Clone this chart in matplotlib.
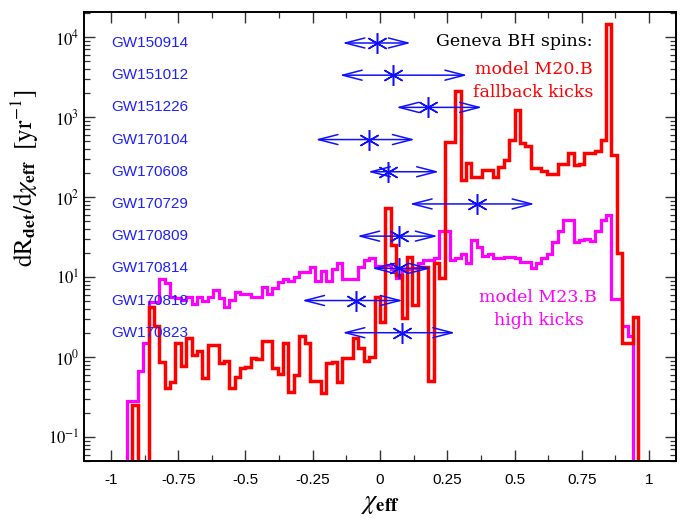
import numpy as np
import matplotlib.pyplot as plt
from matplotlib.ticker import MultipleLocator, LogLocator, NullFormatter

plt.rcParams['mathtext.fontset'] = 'stix'
plt.rcParams['font.family'] = ['Liberation Sans', 'DejaVu Sans']

# histogramas dR/dchi [1/yr], bins de 0.02 a partir de chi = -0.94
chi_first = -0.94
dchi = 0.02

red_m20 = [0, 0.25, 0, 0, 4.2, 2.4, 0.87, 0.41, 0.48, 1.5,
           0.77, 1.7, 1.06, 1.2, 0.54, 1.4, 1.4, 0.85, 0.9, 0.41,
           0.56, 0.73, 0.75, 0.97, 0.95, 1.6, 1.6, 0.73, 0.62, 1.5,
           0.36, 0.6, 1.8, 1.5, 0.5, 0.5, 0.35, 0.84, 0.87, 0.49,
           0.97, 0.97, 1.7, 1.3, 0.9, 1.0, 5.6,
           2.7, 73, 25, 10.6, 3.1, 18, 4.5, 13.3, 13.3, 0.5,
           15, 9.8, 490, 490, 2100, 162, 263, 180, 180, 220,
           220, 180, 240, 290, 520, 1230, 470, 430, 230, 230,
           210, 195, 195, 260, 260, 350, 250, 260, 350, 350,
           380, 520, 14500, 335, 20, 1.5, 1.5, 3.2]

mag_m23 = [0.28, 0.28, 0.66, 1.5, 4.8, 4.8, 9.4, 8.4, 5.6, 5.4,
           5.2, 5.6, 4.6, 5.6, 5.0, 5.6, 6.8, 5.4, 4.2, 5.2,
           6.5, 6.2, 6.2, 5.6, 5.6, 7.5, 6.1, 7.2, 8.6, 9.3,
           8.8, 10, 11.5, 11.5, 13.3, 9, 12, 9, 12.5, 15,
           9.4, 9.4, 9.5, 13.3, 16.5, 17, 13.5,
           13.5, 14, 12.5, 9.8, 12.3, 12.5, 13, 15, 16.5, 16.5,
           17, 38, 38, 16.5, 17, 19.6, 15, 29, 24, 18.5,
           19.5, 17, 17, 18, 18, 17, 15.4, 15.4, 13, 15,
           17, 19.6, 27, 37, 52, 52, 27, 29, 30, 28,
           37, 52, 60, 5.3, 5.3, 2.4, 1.8, 0]

# eventos LIGO/Virgo: chi_eff mediano e intervalo
events = ['GW150914', 'GW151012', 'GW151226', 'GW170104', 'GW170608',
          'GW170729', 'GW170809', 'GW170814', 'GW170818', 'GW170823']
ev_med = [-0.01, 0.05, 0.18, -0.04, 0.03, 0.36, 0.07, 0.07, -0.09, 0.08]
ev_lo = [-0.14, -0.15, 0.06, -0.24, -0.045, 0.11, -0.085, -0.03, -0.29, -0.14]
ev_hi = [0.115, 0.325, 0.38, 0.13, 0.22, 0.575, 0.215, 0.19, 0.085, 0.28]

xticks = [-1, -0.75, -0.5, -0.25, 0, 0.25, 0.5, 0.75, 1]
xlabels = ['-1', '-0.75', '-0.5', '-0.25', '0', '0.25', '0.5', '0.75', '1']
yticks = [0.1, 1, 10, 100, 1e3, 1e4]
ylabels = [r'$10^{-1}$', r'$10^{0}$', r'$10^{1}$', r'$10^{2}$', r'$10^{3}$', r'$10^{4}$']

edges = chi_first + dchi * np.arange(len(red_m20) + 1)
floor = 1e-4
red = np.array(red_m20, dtype=float)
mag = np.array(mag_m23, dtype=float)
red = np.where(red > 0, red, floor)
mag = np.where(mag > 0, mag, floor)

fig = plt.figure(figsize=(6.86, 5.2), dpi=100)
ax = fig.add_axes([0.1224, 0.1135, 0.863, 0.8634])

ax.stairs(mag, edges, baseline=floor, color='#ff00ff', lw=2.3)
ax.stairs(red, edges, baseline=floor, color='#ff0000', lw=2.5)

ax.set_yscale('log')
ax.set_xlim(-1.1, 1.1)
ax.set_ylim(0.05, 2.05e4)

# eventos em linhas igualmente espaçadas (coord. y do eixo)
trans = ax.get_xaxis_transform()
row_y = 0.931 - 0.0717 * np.arange(len(events))
for i in range(len(events)):
    y = row_y[i]
    ax.annotate('', xy=(ev_hi[i], y), xytext=(ev_lo[i], y),
                xycoords=trans, textcoords=trans,
                arrowprops=dict(arrowstyle='<->,head_length=1.4,head_width=0.36',
                                color='#1010ff', lw=1.1, shrinkA=0, shrinkB=0,
                                mutation_scale=10))
    ax.plot([ev_med[i]], [y], transform=trans, marker=(6, 2, 0), ms=15,
            mec='#1010ff', mew=1.1, ls='none')
    ax.text(-1.0, y, events[i], transform=trans, color='#2020ff',
            fontsize=11, ha='left', va='center')

ax.text(0.726, 0.935, 'Geneva BH spins:', transform=ax.transAxes,
        family='DejaVu Serif', fontsize=12.5, ha='center', va='center')
ax.text(0.760, 0.871, 'model M20.B', transform=ax.transAxes, color='#ff0000',
        family='DejaVu Serif', fontsize=12.5, ha='center', va='center')
ax.text(0.758, 0.820, 'fallback kicks', transform=ax.transAxes, color='#ff0000',
        family='DejaVu Serif', fontsize=12.5, ha='center', va='center')
ax.text(0.767, 0.365, 'model M23.B', transform=ax.transAxes, color='#ff00ff',
        family='DejaVu Serif', fontsize=12.5, ha='center', va='center')
ax.text(0.769, 0.314, 'high kicks', transform=ax.transAxes, color='#ff00ff',
        family='DejaVu Serif', fontsize=12.5, ha='center', va='center')

ax.set_xticks(xticks)
ax.set_xticklabels(xlabels, fontsize=11)
ax.xaxis.set_minor_locator(MultipleLocator(0.125))
ax.set_yticks(yticks)
ax.set_yticklabels(ylabels, fontsize=12)
ax.yaxis.set_minor_locator(LogLocator(base=10, subs=np.arange(2, 10)))
ax.yaxis.set_minor_formatter(NullFormatter())

ax.tick_params(which='both', direction='in', top=True, right=True, color='#333333')
ax.tick_params(which='major', length=8, width=1.0)
ax.tick_params(which='minor', length=4, width=0.9)
ax.tick_params(axis='x', which='major', pad=9)
for s in ax.spines.values():
    s.set_linewidth(1.4)

ax.set_xlabel(r'$\chi_{\mathbf{eff}}$', fontsize=19)
ax.xaxis.set_label_coords(0.5, -0.07)
ax.set_ylabel(r'$\mathrm{dR_{\mathbf{det}}/d}\chi_{\mathbf{eff}}\ \ \mathrm{[yr^{-1}]}$', fontsize=18)
ax.yaxis.set_label_coords(-0.072, 0.63)

fig.savefig('out.png', dpi=100)
